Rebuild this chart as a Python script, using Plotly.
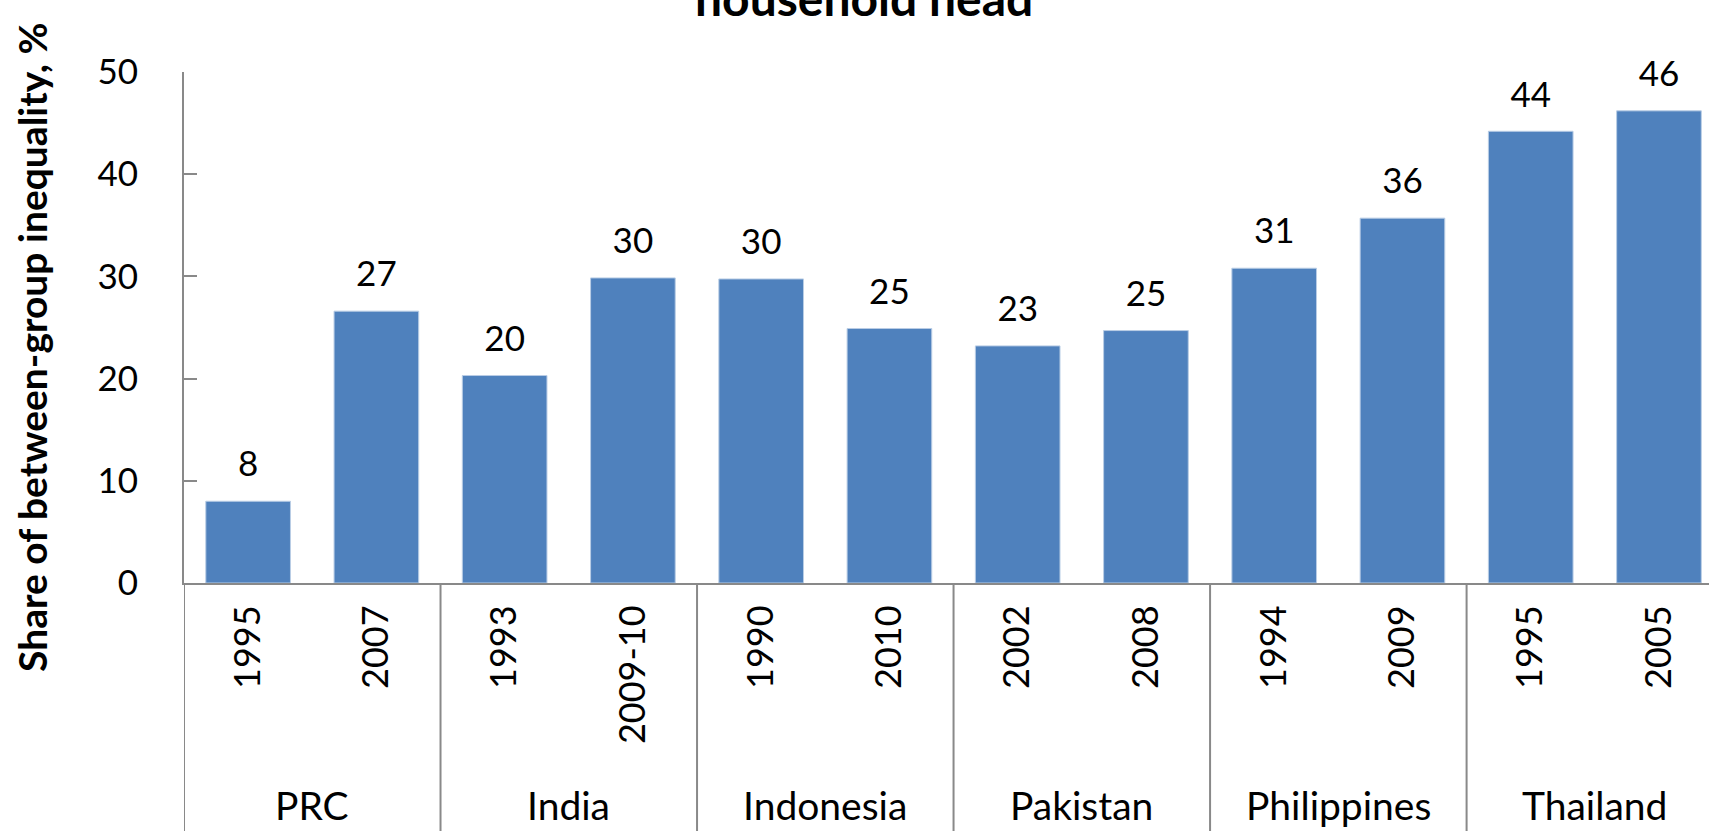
import plotly.graph_objects as go

# Survey countries and years
countries = ["PRC", "India", "Indonesia", "Pakistan", "Philippines", "Thailand"]
years = ["1995", "2007", "1993", "2009-10", "1990", "2010",
         "2002", "2008", "1994", "2009", "1995", "2005"]
# Share of between-group inequality (%)
share = [8.0, 26.6, 20.3, 29.85, 29.75, 24.9, 23.2, 24.7, 30.8, 35.7, 44.2, 46.2]

y_ticks = [0, 10, 20, 30, 40, 50]

BAR = "#4F81BD"
AXIS = "#898989"
FONT = "Lato"

per_country = len(years) // len(countries)
pos = list(range(len(years)))

fig = go.Figure()

fig.add_trace(go.Bar(
    x=pos,
    y=share,
    marker=dict(color=BAR, line=dict(color="#B9CDE5", width=1)),
    width=0.66,
    showlegend=False,
    hoverinfo="skip",
))

# Value labels above each bar
fig.add_trace(go.Scatter(
    x=pos,
    y=share,
    mode="markers+text",
    text=[f"{v:.0f}" for v in share],
    textposition="top center",
    textfont=dict(family=FONT, size=35, color="black"),
    marker=dict(size=24, color="rgba(0,0,0,0)"),
    cliponaxis=False,
    showlegend=False,
    hoverinfo="skip",
))

fig.update_layout(
    width=1709,
    height=831,
    margin=dict(l=184, r=0, t=72, b=248),
    paper_bgcolor="white",
    plot_bgcolor="white",
    font=dict(family=FONT, size=35, color="black"),
)

fig.update_yaxes(
    range=[0, 50],
    tickvals=y_ticks,
    showgrid=False,
    zeroline=False,
    showline=True,
    linecolor=AXIS,
    linewidth=2,
    ticks="inside",
    ticklen=13,
    tickwidth=2,
    tickcolor=AXIS,
    ticklabelstandoff=37,
    tickfont=dict(family=FONT, size=35, color="black"),
)

fig.update_xaxes(
    range=[-0.5, 11.39],
    tickvals=pos,
    ticktext=years,
    showgrid=False,
    zeroline=False,
    showline=True,
    linecolor=AXIS,
    linewidth=2,
    ticks="",
    tickangle=-90,
    ticklabelstandoff=6,
    tickfont=dict(family=FONT, size=36, color="black"),
)

# Country group labels and dividers below the year labels
for g, name in enumerate(countries):
    left = g * per_country - 0.5
    centre = left + per_country / 2
    fig.add_annotation(
        text=name, x=centre, xref="x", y=-0.4835, yref="paper",
        xanchor="center", yanchor="bottom", showarrow=False,
        font=dict(family=FONT, size=39, color="black"),
    )
    fig.add_shape(
        type="line", xref="x", yref="paper",
        x0=left, x1=left, y0=0, y1=-0.6,
        line=dict(color=AXIS, width=2),
    )

# Axis title
fig.add_annotation(
    text="<b>Share of between-group inequality, %</b>",
    xref="paper", yref="paper",
    x=-0.0997, y=0.462,
    xanchor="center", yanchor="middle",
    textangle=-90,
    showarrow=False,
    font=dict(family=FONT, size=39, color="black"),
)

# Chart title (last line sits at the top edge)
fig.add_annotation(
    text="<b>household head</b>",
    xref="paper", yref="paper",
    x=0.4459, y=1.0861,
    xanchor="center", yanchor="bottom",
    showarrow=False,
    font=dict(family=FONT, size=48, color="black"),
)

fig.write_html("out.html")
